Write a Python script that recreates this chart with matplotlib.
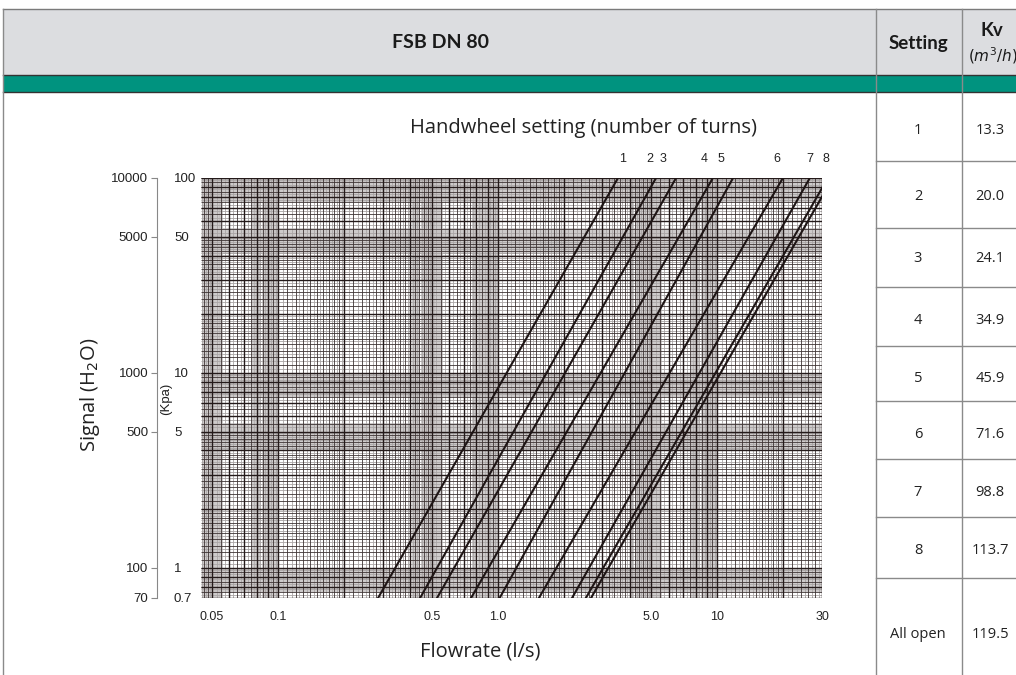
import numpy as np
import matplotlib.pyplot as plt
from matplotlib.patches import Rectangle
from matplotlib.ticker import NullLocator
from matplotlib.transforms import blended_transform_factory

# table
settings = ['1', '2', '3', '4', '5', '6', '7', '8', 'All open']
kv = ['13.3', '20.0', '24.1', '34.9', '45.9', '71.6', '98.8', '113.7', '119.5']

# flow (l/s) where each setting line meets 0.7 kPa and 100 kPa
dp_ends = [0.7, 100]
q_low = [0.285, 0.443, 0.529, 0.756, 1.02, 1.54, 2.18, 2.52, 2.66]
q_high = [3.53, 5.26, 6.49, 9.55, 11.8, 19.9, 26.4, 31.9, 33.6]

# handwheel turn labels along the top
turn_labels = ['1', '2', '3', '4', '5', '6', '7', '8']
turn_x = [3.72, 4.94, 5.66, 8.70, 10.4, 18.7, 26.4, 31.3]

x_ticks = [0.05, 0.1, 0.5, 1, 5, 10, 30]
x_labels = ['0.05', '0.1', '0.5', '1.0', '5.0', '10', '30']
kpa_ticks = [0.7, 1, 5, 10, 50, 100]
kpa_labels = ['0.7', '1', '5', '10', '50', '100']
h2o_ticks = [70, 100, 500, 1000, 5000, 10000]
h2o_labels = ['70', '100', '500', '1000', '5000', '10000']

W, H = 1016, 675
PT = 72 / 100  # points per pixel
fig = plt.figure(figsize=(W / 100, H / 100), dpi=100)

# ---- table / frame drawn in pixel coords
bg = fig.add_axes([0, 0, 1, 1], zorder=-1)
bg.set_xlim(0, W)
bg.set_ylim(H, 0)
bg.axis('off')
bg.add_patch(Rectangle((3, 9), W, 66, fc='#dcdde0', ec='none'))
bg.add_patch(Rectangle((3, 75), W, 17, fc='#00937f', ec='none'))
bg.plot([3, W], [9, 9], color='#7a7a7a', lw=1)
bg.plot([3, W], [75, 75], color='#333333', lw=1)
bg.plot([3, W], [92, 92], color='#333333', lw=1)
for xv in [3, 876, 962]:
    bg.plot([xv, xv], [9, H], color='#8a8a8a', lw=1)
row_lines = [161, 228, 287, 346, 401, 459, 517, 578]
for yv in row_lines:
    bg.plot([876, W], [yv, yv], color='#8a8a8a', lw=1)

hdr = dict(family='Lato', fontweight='bold', color='#1a1a1a')
bg.text(440, 43, 'FSB DN 80', fontsize=14, ha='center', va='center', **hdr)
bg.text(918, 43, 'Setting', fontsize=13.5, ha='center', va='center', **hdr)
bg.text(992, 31, 'Kv', fontsize=13.5, ha='center', va='center', **hdr)
bg.text(968, 56, '$(m^3/h)$', fontsize=11, ha='left', va='center', color='#1a1a1a')

row_y = [131, 197, 258, 320, 378, 435, 492, 550, 634]
for s, k, yv in zip(settings, kv, row_y):
    bg.text(918, yv, s, fontsize=10.5, family='Open Sans', ha='center', va='center', color='#222222')
    bg.text(990, yv, k, fontsize=10.5, family='Open Sans', ha='center', va='center', color='#222222')

bg.text(583, 128, 'Handwheel setting (number of turns)', fontsize=14.5, family='Open Sans',
        ha='center', va='center', color='#222222')
bg.text(480, 651, 'Flowrate (l/s)', fontsize=14.5, family='Open Sans',
        ha='center', va='center', color='#222222')
bg.text(90, 395, 'Signal (H$_2$O)', fontsize=14.5, family='Open Sans', rotation=90,
        ha='center', va='center', color='#222222')
bg.text(166, 399, '(Kpa)', fontsize=9.5, family='Liberation Sans', rotation=90,
        ha='center', va='center', color='#222222')

# ---- chart
ax = fig.add_axes([201 / W, 1 - 598 / H, 621 / W, 420 / H])
ax.set_xscale('log')
ax.set_yscale('log')
ax.set_xlim(0.0445, 30)
ax.set_ylim(0.7, 100)


# log paper grid: dark rulings, gray half-steps, extra gray in the dense bands
def paper(lo, hi):
    dark, light, band, major = [], [], [], []
    for d in range(-3, 3):
        b = 10.0 ** d
        major += list(np.arange(1, 10) * b)
        for a, z, st in [(1, 2, 0.1), (2, 5, 0.2), (5, 10, 0.5)]:
            dark += list(np.arange(a, z, st) * b)
            light += list(np.arange(a + st / 2, z, st) * b)
        band += list(np.arange(4.0, 5.6, 0.05) * b)
        band += list(np.arange(7.6, 10.0, 0.1) * b)
    keep = lambda v: [x for x in v if lo <= x <= hi]
    return keep(dark), keep(light), keep(band), keep(major)


xd, xl, xb, xM = paper(0.0445, 30)
yd, yl, yb, yM = paper(0.7, 100)
ax.vlines(xb, 0.7, 100, color='#c4c0c0', lw=0.6, zorder=1)
ax.hlines(yb, 0.0445, 30, color='#c4c0c0', lw=0.6, zorder=1)
ax.vlines(xl, 0.7, 100, color='#aaa5a5', lw=0.6, zorder=1)
ax.hlines(yl, 0.0445, 30, color='#aaa5a5', lw=0.6, zorder=1)
ax.vlines(xd, 0.7, 100, color='#3e3434', lw=0.6, zorder=2)
ax.hlines(yd, 0.0445, 30, color='#3e3434', lw=0.6, zorder=2)
ax.vlines(xM, 0.7, 100, color='#241a1a', lw=1.0, zorder=3)
ax.hlines(yM, 0.0445, 30, color='#241a1a', lw=1.0, zorder=3)

for lo, hi in zip(q_low, q_high):
    ax.plot([lo, hi], dp_ends, color='#1e1515', lw=1.5, zorder=5)

for sp in ax.spines.values():
    sp.set_visible(False)

ax.set_xticks(x_ticks, x_labels)
ax.xaxis.set_minor_locator(NullLocator())
ax.tick_params(axis='x', length=0, pad=9, labelsize=9, labelfontfamily='Liberation Sans',
               labelcolor='#222222')
ax.set_yticks(kpa_ticks, kpa_labels)
ax.yaxis.set_minor_locator(NullLocator())
ax.tick_params(axis='y', length=0, pad=27 * PT, labelsize=9.5, labelfontfamily='Liberation Sans',
               labelcolor='#222222')
for lbl in ax.get_yticklabels():
    lbl.set_ha('left')

trans = blended_transform_factory(ax.transData, ax.transAxes)
for t, xv in zip(turn_labels, turn_x):
    ax.text(xv, 1.03, t, transform=trans, fontsize=9, family='Liberation Sans',
            ha='center', va='bottom', color='#222222', clip_on=False)

# water column axis on the far left
ax2 = ax.twinx()
ax2.set_yscale('log')
ax2.set_ylim(70, 10000)
ax2.yaxis.tick_left()
for name in ['right', 'top', 'bottom']:
    ax2.spines[name].set_visible(False)
ax2.spines['left'].set_position(('outward', 44 * PT))
ax2.spines['left'].set_color('#888888')
ax2.set_yticks(h2o_ticks, h2o_labels)
ax2.yaxis.set_minor_locator(NullLocator())
ax2.tick_params(axis='y', length=6 * PT, color='#888888', pad=2, labelsize=9.5,
                labelfontfamily='Liberation Sans', labelcolor='#222222')

fig.savefig('out.png', dpi=100)
